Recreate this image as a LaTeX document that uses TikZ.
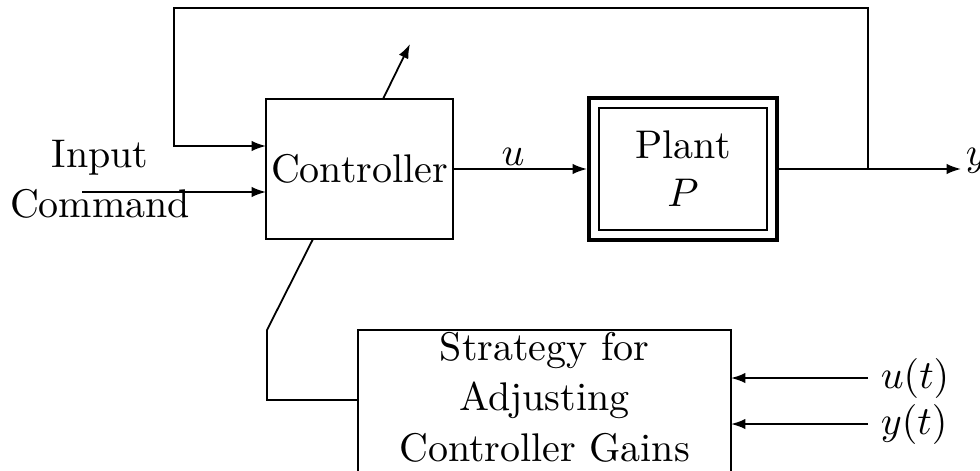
\documentclass[tikz,border=0pt]{standalone}
\usetikzlibrary{arrows.meta,calc}
\begin{document}
\begin{tikzpicture}[x=0.25pt,y=-0.25pt,
  box/.style={draw,line width=0.45pt,inner sep=0pt},
  conn/.style={line width=0.45pt},
  arr/.style={conn,-{Latex[length=3.6pt,width=2.6pt]}}]
\useasboundingbox (0,0) rectangle (980,470);
% blocks
\node[box,minimum width=46.75pt,minimum height=35pt] (ctrl) at (359.5,169) {Controller};
\node[box,line width=1pt,minimum width=47pt,minimum height=35.5pt] (plantout) at (683,169) {};
\node[box,minimum width=42pt,minimum height=30.5pt,align=center] (plant) at (683,169) {Plant\\$P$};
\node[box,minimum width=93.25pt,minimum height=40pt] (strat) at (544.5,410) {};
\node[align=center,inner sep=0pt] (stratlabel) at (544.5,397) {Strategy for\\[0.6pt]Adjusting\\[0.6pt]Controller Gains};
% labels
\node[align=center,inner sep=0pt] (inputlabel) at (100,179) {Input\\[0.5pt]Command};
\node[inner sep=0pt] (ulabel) at (513,157) {$u$};
\node[anchor=west,inner sep=1pt] (ylabel) at (961,161) {$y$};
\node[anchor=west,inner sep=1pt] (utlabel) at (876,378) {$u(t)$};
\node[anchor=west,inner sep=1pt] (ytlabel) at (876,424) {$y(t)$};
% coordinates
\coordinate (inputstart) at (82,192);
\coordinate (ctrlin1) at (266,146);
\coordinate (ctrlin2) at (266,192);
\coordinate (branch) at (868,169);
\coordinate (fbcorner) at (174,8);
\coordinate (yend) at (961,169);
\coordinate (adjstart) at (383,99);
\coordinate (adjend) at (410,44);
\coordinate (gainstart) at (313,239);
\coordinate (gainkink) at (267,330);
\coordinate (gaincorner) at (267,400);
\coordinate (utstart) at (868,378);
\coordinate (ytstart) at (868,424);
\coordinate (stratin1) at (731,378);
\coordinate (stratin2) at (731,424);
% connectors
\draw[arr] (inputstart) -- (ctrlin2);
\draw[arr] (ctrl.east) -- (plantout.west);
\draw[arr] (plantout.east) -- (yend);
\draw[arr] (branch) |- (fbcorner) |- (ctrlin1);
\draw[arr] (adjstart) -- (adjend);
\draw[conn] (gainstart) -- (gainkink) -- (gaincorner) -- (gaincorner -| strat.west);
\draw[arr] (utstart) -- (stratin1);
\draw[arr] (ytstart) -- (stratin2);
\end{tikzpicture}
\end{document}
